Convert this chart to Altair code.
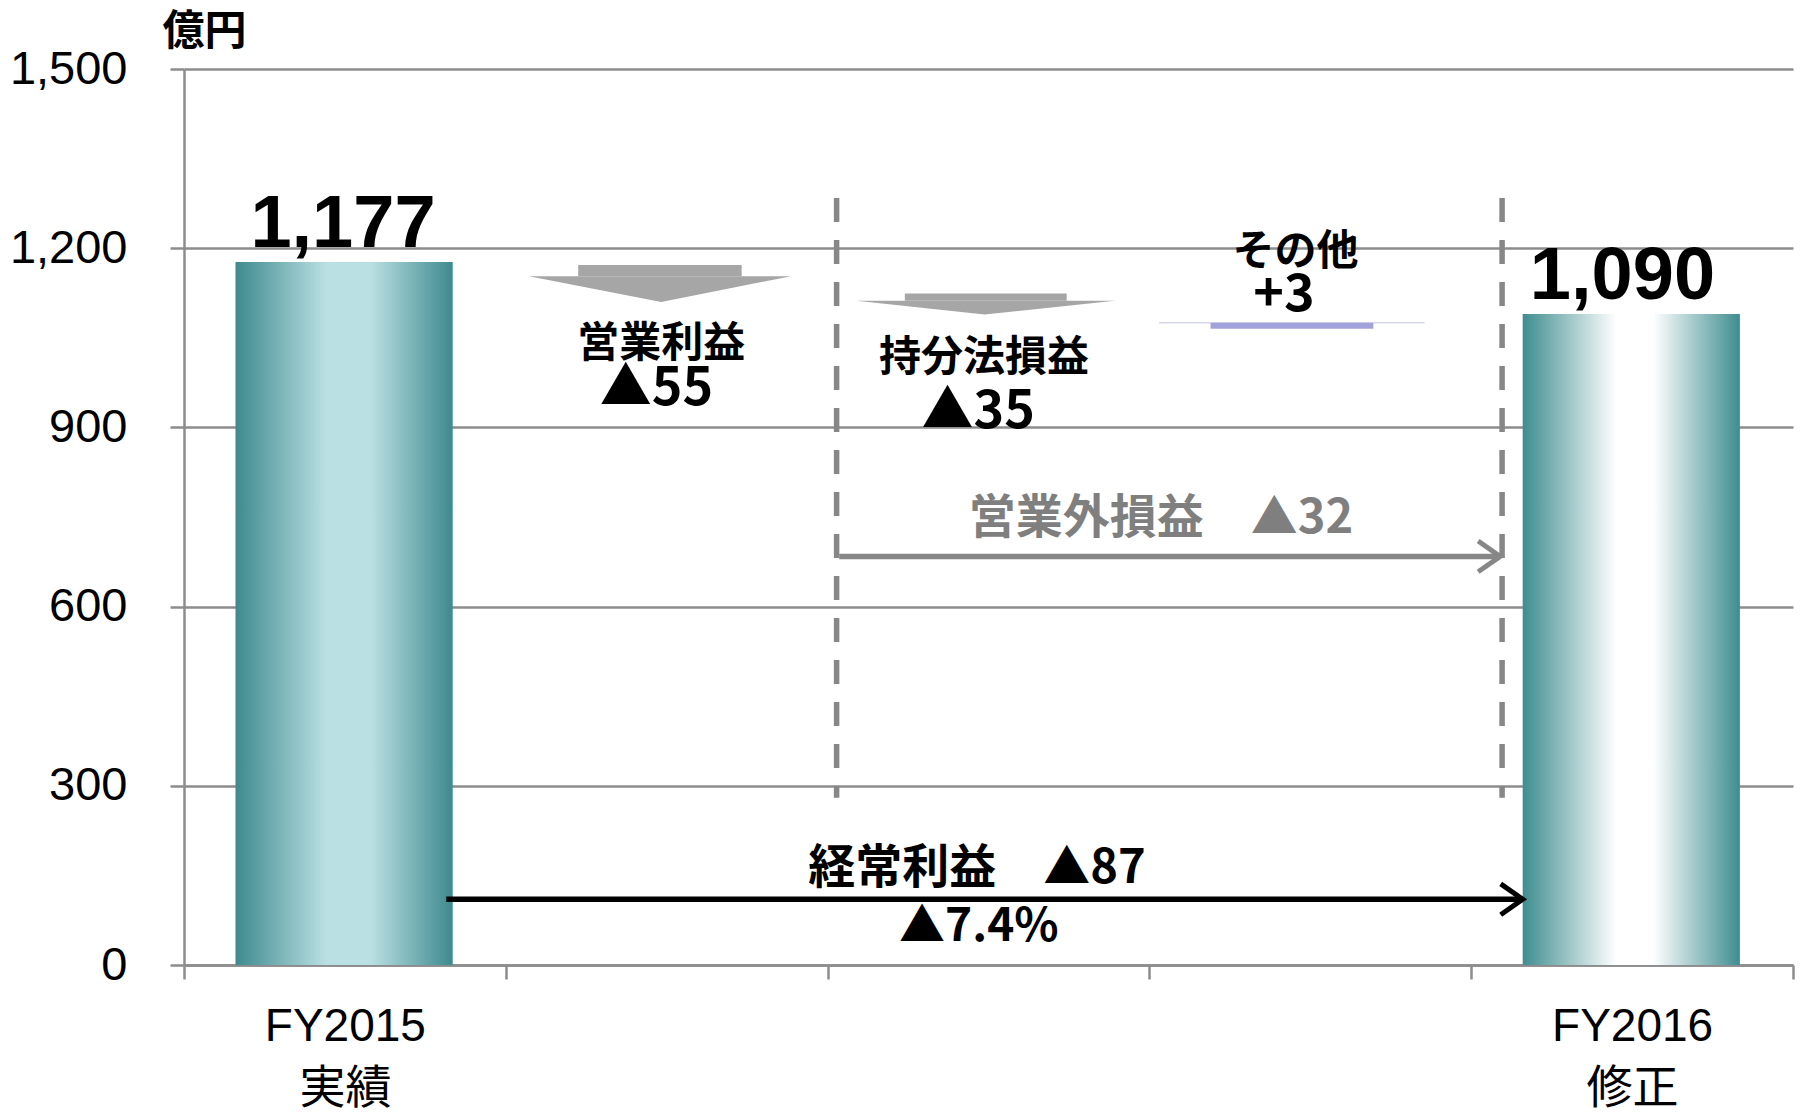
import json
import altair as alt
import pandas as pd

FONT = "Liberation Sans, Arial, Noto Sans CJK JP"
FONT_CJK = "Noto Sans CJK JP"
GRID = "#8C8C8C"

# ---------------- data ----------------
y_ticks = [0, 300, 600, 900, 1200, 1500]
y_unit = "億円"
cat_bounds = [0, 1, 2, 3, 4, 5]
cat_label_pos = [0.5, 4.5]
cat_label_lines = [["FY2015", "実績"], ["FY2016", "修正"]]

bar_slot = [0, 4]
bar_values = [1177, 1090]
bar_text = ["1,177", "1,090"]
bar_text_x = [0.494, 4.47]

# downward change arrows (営業利益, 持分法損益)
arrow_id = ["a1", "a2"]
arrow_shaft_left = [1.225, 2.24]
arrow_shaft_right = [1.733, 2.743]
arrow_shaft_top = [1172, 1124]
arrow_head_base = [1153, 1112]
arrow_head_left = [1.072, 2.089]
arrow_head_right = [1.886, 2.893]
arrow_tip_x = [1.483, 2.488]
arrow_tip_y = [1110, 1089]

# その他 (+3) small bar
other_x = [3.19, 3.696]
other_y = [1065, 1075]
other_line_x = [3.03, 3.855]

# dashed separators
sep_x = [2.028, 4.096]
sep_top = [1284, 1284]
sep_bottom = [280, 280]

# horizontal arrows
gray_arrow_x = [2.036, 4.09]
gray_arrow_y = 684
black_arrow_x = [0.815, 4.16]
black_arrow_y = 110

# annotation texts
name_text = ["営業利益", "持分法損益", "その他"]
name_x = [1.483, 2.486, 3.454]
name_y = [1040, 1017, 1193]
delta_text = ["▲55", "▲35", "+3"]
delta_x = [1.468, 2.468, 3.418]
delta_y = [965, 926, 1122]
gray_note = ["営業外損益　▲32"]
gray_note_x = [3.036]
gray_note_y = [747]
black_note = ["経常利益　▲87", "▲7.4%"]
black_note_x = [2.464, 2.47]
black_note_y = [161, 64]

# ---------------- scales / axes ----------------
xscale = alt.Scale(domain=[0, 5], nice=False, zero=False)
yscale = alt.Scale(domain=[0, 1500], nice=False)

label_expr = " : ".join(
    f"datum.value == {p} ? {json.dumps(lines, ensure_ascii=False)}"
    for p, lines in zip(cat_label_pos, cat_label_lines)
) + " : ''"
hide_test = " || ".join(f"datum.value == {p}" for p in cat_label_pos)

x_axis = alt.Axis(
    values=sorted(cat_bounds + cat_label_pos),
    title=None, grid=False,
    domainColor=GRID, domainWidth=2.5,
    tickColor=GRID, tickWidth=2.5, tickSize=14,
    tickOpacity={"condition": {"test": hide_test, "value": 0}, "value": 1},
    labelExpr=label_expr, labelFont=FONT, labelFontSize=46, labelColor="black",
    labelPadding=25, labelLineHeight=62, labelFlush=False, labelOverlap=False,
)
y_axis = alt.Axis(
    values=y_ticks, format=",d", title=y_unit,
    titleAngle=0, titleAlign="left", titleBaseline="top",
    titleX=-22, titleY=-58, titleFont=FONT_CJK, titleFontSize=42,
    titleFontWeight="bold", titleColor="black",
    grid=True, gridColor=GRID, gridWidth=2.5,
    domainColor=GRID, domainWidth=2.5,
    tickColor=GRID, tickWidth=2.5, tickSize=14,
    labelFont=FONT, labelFontSize=47, labelColor="black", labelPadding=43,
)


def X(f, ax=None):
    if ax is None:
        return alt.X(f, type="quantitative", scale=xscale)
    return alt.X(f, type="quantitative", scale=xscale, axis=ax)


def Y(f, ax=None):
    if ax is None:
        return alt.Y(f, type="quantitative", scale=yscale)
    return alt.Y(f, type="quantitative", scale=yscale, axis=ax)


# ---------------- layers ----------------
bars = pd.DataFrame({
    "x": [s + 0.16 for s in bar_slot],
    "x2": [s + 0.835 for s in bar_slot],
    "v": bar_values,
    "t": bar_text,
    "cx": bar_text_x,
})

grad1 = alt.LinearGradient(
    gradient="linear", x1=0, x2=1, y1=0, y2=0,
    stops=[alt.GradientStop(color="#3D8A8E", offset=0),
           alt.GradientStop(color="#BBE0E3", offset=0.42),
           alt.GradientStop(color="#BBE0E3", offset=0.62),
           alt.GradientStop(color="#3D8A8E", offset=1)])
grad2 = alt.LinearGradient(
    gradient="linear", x1=0, x2=1, y1=0, y2=0,
    stops=[alt.GradientStop(color="#3E8D90", offset=0),
           alt.GradientStop(color="#FFFFFF", offset=0.43),
           alt.GradientStop(color="#FFFFFF", offset=0.60),
           alt.GradientStop(color="#3E8D90", offset=1)])

base_axes = alt.Chart(pd.DataFrame({"x": [0.0], "y": [0.0]})).mark_point(opacity=0).encode(
    x=X("x", x_axis), y=Y("y", y_axis))

bar1 = alt.Chart(bars.iloc[[0]]).mark_rect(color=grad1).encode(
    x=X("x"), x2="x2", y=Y("v"), y2=alt.datum(0))
bar2 = alt.Chart(bars.iloc[[1]]).mark_rect(color=grad2).encode(
    x=X("x"), x2="x2", y=Y("v"), y2=alt.datum(0))
bar_lbl = alt.Chart(bars).mark_text(
    font=FONT, fontSize=74, fontWeight="bold", color="black",
    baseline="alphabetic", dy=-15).encode(x=X("cx"), y=Y("v"), text="t:N")

shafts = pd.DataFrame({"id": arrow_id, "x": arrow_shaft_left, "x2": arrow_shaft_right,
                       "y": arrow_shaft_top, "y2": arrow_head_base})
shaft = alt.Chart(shafts).mark_rect(color="#A6A6A6").encode(
    x=X("x"), x2="x2", y=Y("y"), y2="y2")

head_rows = []
for i, a in enumerate(arrow_id):
    head_rows += [
        {"id": a, "x": arrow_head_left[i], "top": arrow_head_base[i], "bot": arrow_head_base[i]},
        {"id": a, "x": arrow_tip_x[i], "top": arrow_head_base[i], "bot": arrow_tip_y[i]},
        {"id": a, "x": arrow_head_right[i], "top": arrow_head_base[i], "bot": arrow_head_base[i]},
    ]
head = alt.Chart(pd.DataFrame(head_rows)).mark_area(color="#A6A6A6", opacity=1).encode(
    x=X("x"), y=Y("top"), y2="bot", detail="id:N")

other_bar = alt.Chart(pd.DataFrame({"x": [other_x[0]], "x2": [other_x[1]],
                                    "y": [other_y[0]], "y2": [other_y[1]]})).mark_rect(
    color="#A3A3DC").encode(x=X("x"), x2="x2", y=Y("y"), y2="y2")
other_line = alt.Chart(pd.DataFrame({"x": [other_line_x[0]], "x2": [other_line_x[1]],
                                     "y": [other_y[1]]})).mark_rule(
    color="#D6D6EC", strokeWidth=1.5).encode(x=X("x"), x2="x2", y=Y("y"))

seps = alt.Chart(pd.DataFrame({"x": sep_x, "y": sep_top, "y2": sep_bottom})).mark_rule(
    color="#878787", strokeWidth=5.5, strokeDash=[24, 18]).encode(
    x=X("x"), y=Y("y"), y2="y2")

CHEVRON = "M-1,-0.7L0,0L-1,0.7"
gray_line = alt.Chart(pd.DataFrame({"x": [gray_arrow_x[0]], "x2": [gray_arrow_x[1]],
                                    "y": [gray_arrow_y]})).mark_rule(
    color="#878787", strokeWidth=5.5).encode(x=X("x"), x2="x2", y=Y("y"))
gray_head = alt.Chart(pd.DataFrame({"x": [gray_arrow_x[1]], "y": [gray_arrow_y]})).mark_point(
    shape=CHEVRON, filled=False, size=1936, color="#878787", strokeWidth=5,
    opacity=1).encode(x=X("x"), y=Y("y"))
black_line = alt.Chart(pd.DataFrame({"x": [black_arrow_x[0]], "x2": [black_arrow_x[1]],
                                     "y": [black_arrow_y]})).mark_rule(
    color="black", strokeWidth=5.5).encode(x=X("x"), x2="x2", y=Y("y"))
black_head = alt.Chart(pd.DataFrame({"x": [black_arrow_x[1]], "y": [black_arrow_y]})).mark_point(
    shape=CHEVRON, filled=False, size=1936, color="black", strokeWidth=5,
    opacity=1).encode(x=X("x"), y=Y("y"))


def texts(t, xs, ys, size, color):
    df = pd.DataFrame({"t": t, "x": xs, "y": ys})
    return alt.Chart(df).mark_text(font=FONT_CJK, fontSize=size, fontWeight="bold",
                                   color=color, baseline="middle", align="center").encode(
        x=X("x"), y=Y("y"), text="t:N")


names = texts(name_text, name_x, name_y, 42, "black")
deltas = texts(delta_text, delta_x, delta_y, 52, "black")
gnote = texts(gray_note, gray_note_x, gray_note_y, 47, "#7F7F7F")
bnote1 = texts(black_note[:1], black_note_x[:1], black_note_y[:1], 47, "black")
bnote2 = texts(black_note[1:], black_note_x[1:], black_note_y[1:], 46, "black")

chart = alt.layer(
    base_axes, bar1, bar2, shaft, head, other_line, other_bar, seps,
    gray_line, gray_head, black_line, black_head,
    bar_lbl, names, deltas, gnote, bnote1, bnote2,
).properties(
    width=1609, height=896,
    autosize=alt.AutoSizeParams(type="none"),
    padding={"left": 176, "top": 61, "right": 4, "bottom": 143},
).configure_view(stroke=None)

chart.save("out.html", embed_options={"renderer": "svg", "actions": False})
